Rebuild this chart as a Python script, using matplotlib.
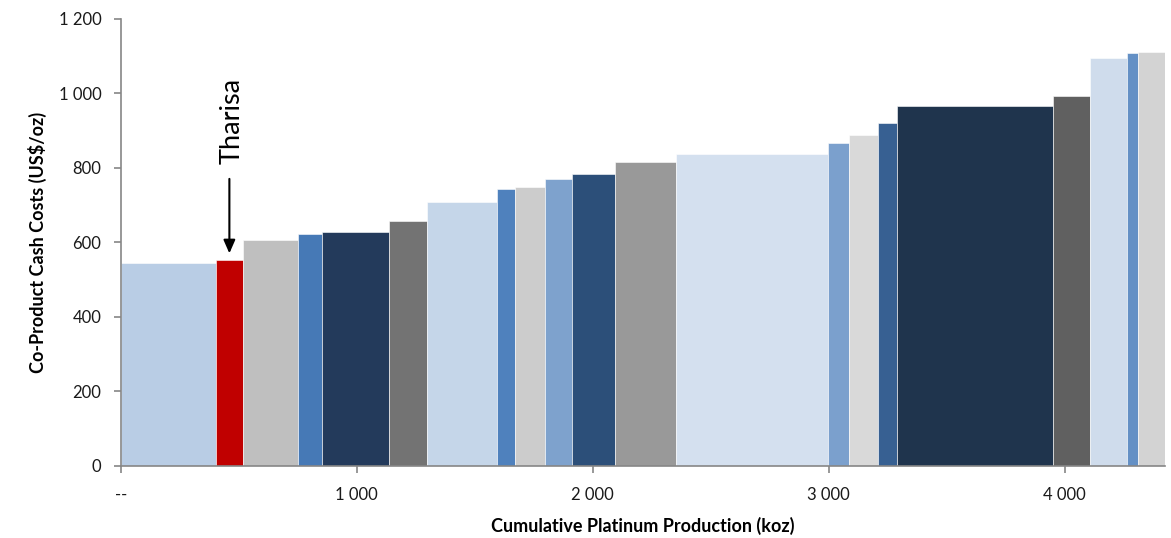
import matplotlib
matplotlib.use("Agg")
import matplotlib.pyplot as plt
import numpy as np

plt.rcParams['font.family'] = ['Lato', 'DejaVu Sans']

# Data
widths = [402, 117, 232, 103, 283, 161, 298, 73, 130, 113, 184, 256, 647, 86, 123, 80, 662, 157, 157, 47, 116]
costs = [545, 552, 606, 622, 627, 658, 709, 743, 749, 770, 783, 816, 837, 866, 889, 921, 966, 993, 1095, 1108, 1111]
colors = ['#B9CDE5', '#C00000', '#BFBFBF', '#4679B6', '#233A5B', '#737373', '#C5D6E9',
          '#4F81BD', '#CCCCCC', '#7EA2CD', '#2C4F79', '#999999', '#D4E0EF', '#7BA0CD',
          '#D9D9D9', '#376092', '#1F344D', '#606060', '#CFDCEC', '#6490C5', '#D3D3D3']
xticks = [0, 1000, 2000, 3000, 4000]
xticklabels = ['--', '1 000', '2 000', '3 000', '4 000']
yticks = [0, 200, 400, 600, 800, 1000, 1200]
yticklabels = ['0', '200', '400', '600', '800', '1 000', '1 200']
highlight_index = 1
highlight_label = 'Tharisa'

fig = plt.figure(figsize=(11.71, 5.38), dpi=100)
ax = fig.add_axes([0.1031, 0.1344, 0.8920, 0.8308])

lefts = np.concatenate([[0], np.cumsum(widths)[:-1]])
ax.bar(lefts, costs, width=widths, align='edge', color=colors,
       edgecolor='white', linewidth=0.4)

ax.set_xlim(0, sum(widths))
ax.set_ylim(0, 1200)
ax.set_xticks(xticks)
ax.set_xticklabels(xticklabels)
ax.set_yticks(yticks)
ax.set_yticklabels(yticklabels)

for s in ['top', 'right']:
    ax.spines[s].set_visible(False)
for s in ['left', 'bottom']:
    ax.spines[s].set_color('#868686')
    ax.spines[s].set_linewidth(1.2)
ax.tick_params(axis='both', which='major', direction='out', length=5, width=1.2,
               color='#868686', labelsize=12, labelcolor='#1a1a1a')
ax.tick_params(axis='x', pad=10)
ax.tick_params(axis='y', pad=9)

ax.set_ylabel('Co-Product Cash Costs (US$/oz)', fontsize=13, fontweight='bold', labelpad=8)
ax.set_xlabel('Cumulative Platinum Production (koz)', fontsize=13, fontweight='bold', labelpad=10)

# Tharisa annotation
hx = lefts[highlight_index] + widths[highlight_index] / 2
ax.annotate('', xy=(hx, costs[highlight_index] + 18), xytext=(hx, 770),
            arrowprops=dict(arrowstyle='-|>,head_width=0.35,head_length=0.8',
                            color='black', lw=1.5, shrinkA=0, shrinkB=0))
ax.text(hx + 10, 925, highlight_label, rotation=90, ha='center', va='center',
        fontsize=19.5, color='black')

fig.savefig('out.png', dpi=100)
